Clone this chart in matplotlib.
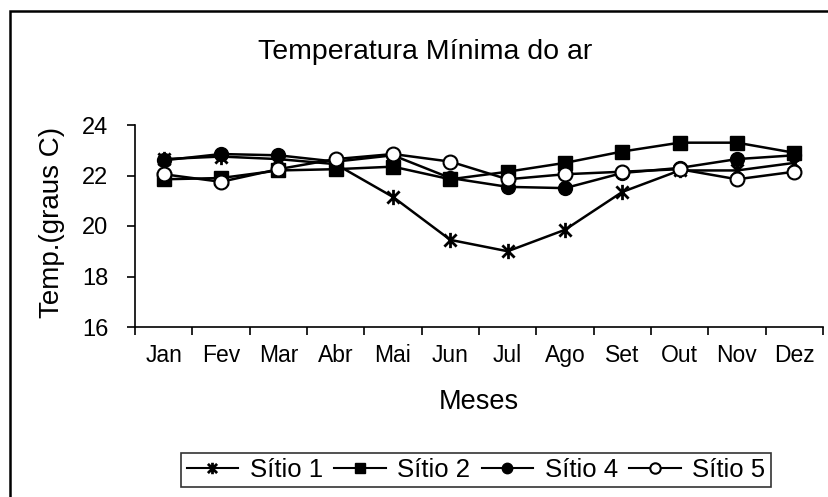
import numpy as np
import matplotlib.pyplot as plt
from matplotlib.path import Path
from matplotlib.patches import Rectangle

plt.rcParams['font.family'] = ['Liberation Sans', 'DejaVu Sans']

meses = ["Jan", "Fev", "Mar", "Abr", "Mai", "Jun", "Jul", "Ago", "Set", "Out", "Nov", "Dez"]
sitio1 = [22.65, 22.75, 22.65, 22.45, 21.15, 19.45, 19.0, 19.85, 21.35, 22.2, 22.2, 22.5]
sitio2 = [21.85, 21.9, 22.2, 22.25, 22.35, 21.85, 22.15, 22.5, 22.95, 23.3, 23.3, 22.9]
sitio4 = [22.6, 22.85, 22.8, 22.55, 22.8, 21.9, 21.55, 21.5, 22.1, 22.3, 22.65, 22.8]
sitio5 = [22.05, 21.75, 22.25, 22.65, 22.85, 22.55, 21.85, 22.05, 22.15, 22.25, 21.85, 22.15]

# asterisk marker: X with a vertical bar
star = Path([(-1, -1), (1, 1), (-1, 1), (1, -1), (0, -1.25), (0, 1.25)],
            [Path.MOVETO, Path.LINETO, Path.MOVETO, Path.LINETO, Path.MOVETO, Path.LINETO])

W, H = 829, 497
fig = plt.figure(figsize=(W/100, H/100), dpi=100)
ax = fig.add_axes([135/W, 1-327/H, 688/W, 202/H])

x = np.arange(len(meses))
ax.plot(x, sitio1, color="black", lw=1.8, marker=star, ms=11, mew=2, label="Sítio 1")
ax.plot(x, sitio2, color="black", lw=1.8, marker="s", ms=9.5, label="Sítio 2")
ax.plot(x, sitio4, color="black", lw=1.8, marker="o", ms=10, label="Sítio 4")
ax.plot(x, sitio5, color="black", lw=1.8, marker="o", ms=10, mfc="white", mew=1.5, label="Sítio 5")

ax.set_xlim(-0.5, 11.5)
ax.set_ylim(16, 24)
ax.set_yticks([16, 18, 20, 22, 24])
ax.set_xticks(x)
ax.set_xticklabels(meses)
ax.set_xticks(np.arange(-0.5, 12, 1), minor=True)
ax.tick_params(axis="x", which="major", length=0, labelsize=16.5, pad=12)
ax.tick_params(axis="x", which="minor", length=6, width=1.2, direction="out")
ax.tick_params(axis="y", length=6, width=1.2, labelsize=17, pad=13)
for s in ["top", "right"]:
    ax.spines[s].set_visible(False)
for s in ["left", "bottom"]:
    ax.spines[s].set_linewidth(1.2)

fig.text(52/W, 1-222/H, "Temp.(graus C)", fontsize=20, rotation=90, ha="center", va="center")
fig.text(479/W, 1-402/H, "Meses", fontsize=19.5, ha="center", va="center")
fig.text(258/W, 1-59/H, "Temperatura Mínima do ar", fontsize=20.5, ha="left", va="baseline")

leg = fig.legend(loc="center", bbox_to_anchor=(476/W, 1-470/H), ncol=4, fontsize=18.5,
                 frameon=True, fancybox=False, edgecolor="black", markerscale=0.75,
                 handlelength=2.0, handletextpad=0.45, columnspacing=0.45, borderpad=0.2,
                 borderaxespad=0)
leg.get_frame().set_linewidth(1.2)
for line in leg.get_lines():
    line.set_linewidth(1.5)

fig.patches.append(Rectangle((10/W, -10/H), 830/W, 496/H, transform=fig.transFigure,
                             fill=False, edgecolor="black", lw=1.8))

fig.savefig("out.png", dpi=100)
